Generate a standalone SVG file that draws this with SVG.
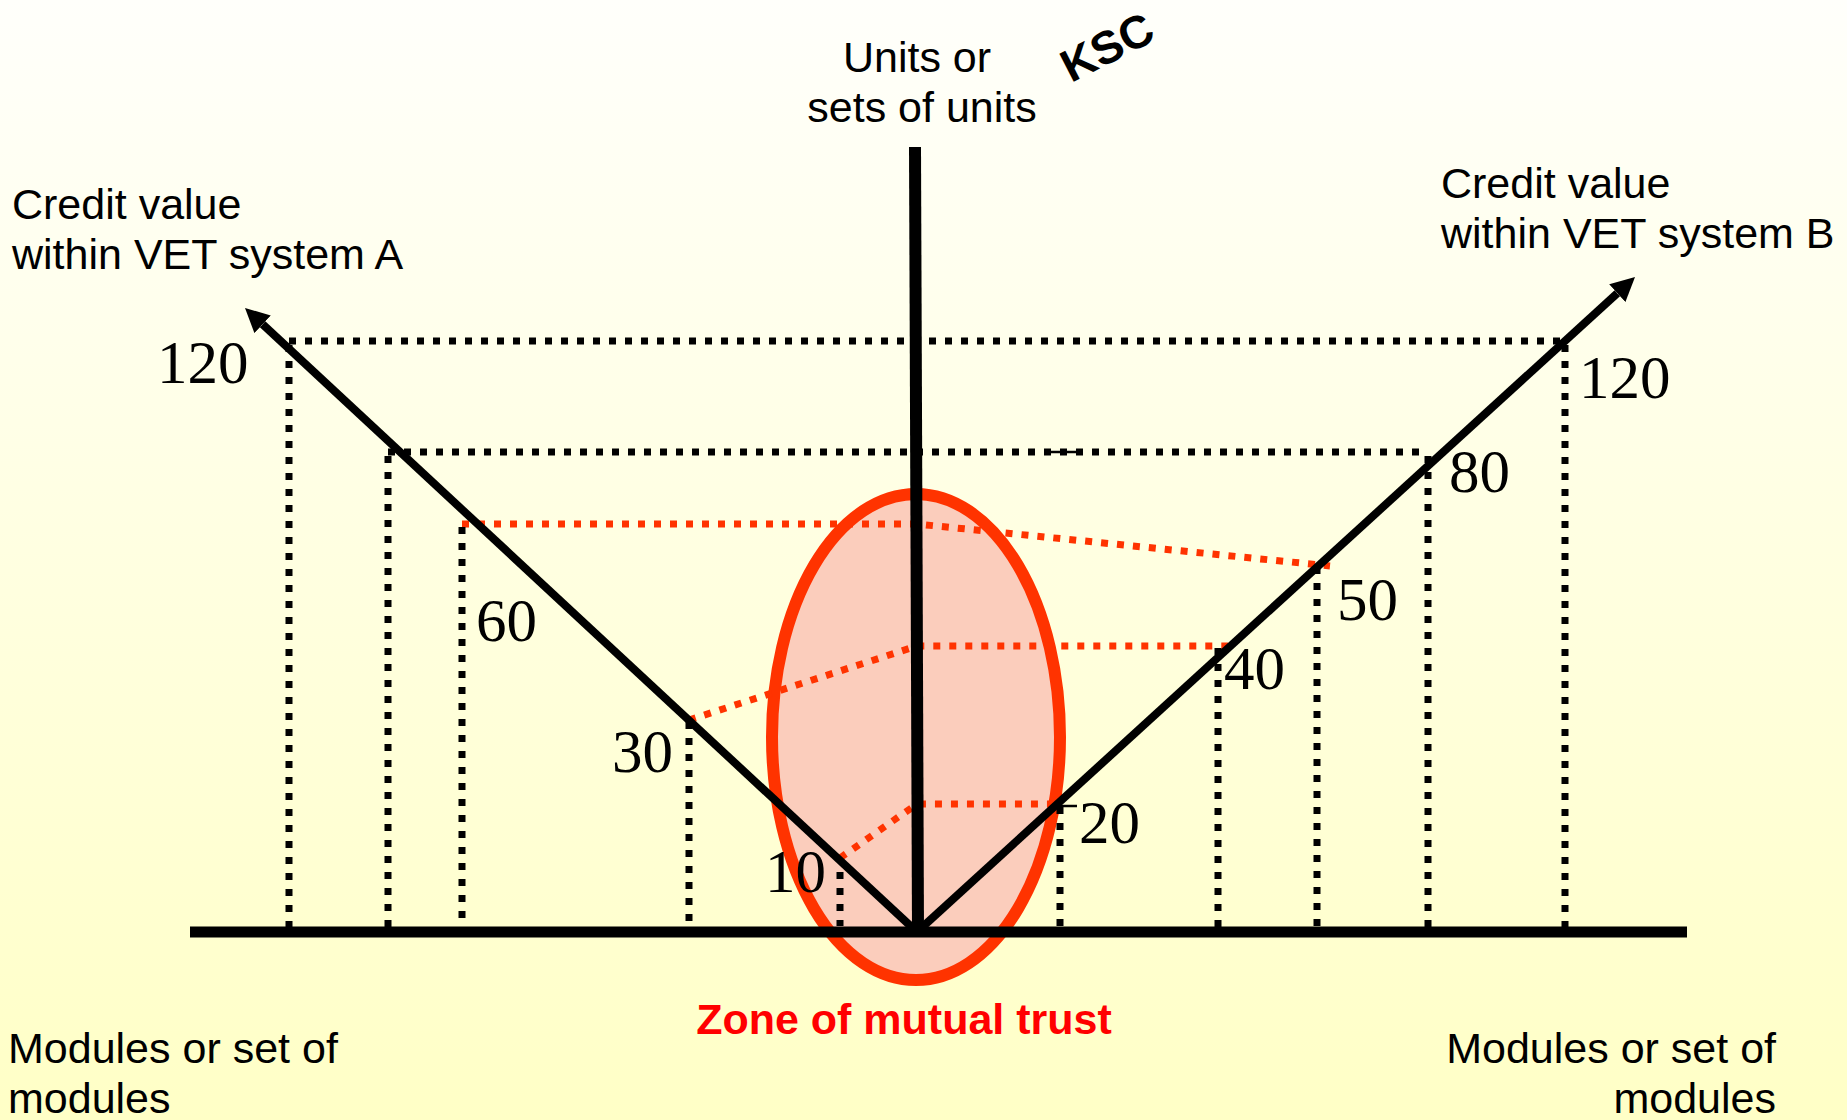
<svg xmlns="http://www.w3.org/2000/svg" width="1847" height="1120" viewBox="0 0 1847 1120">
  <defs>
    <linearGradient id="bg" x1="0" y1="0" x2="0" y2="1">
      <stop offset="0" stop-color="#FFFFFB"/>
      <stop offset="1" stop-color="#FFFFC6"/>
    </linearGradient>
    <marker id="arrow" viewBox="0 0 24 24" refX="0" refY="12" markerWidth="24" markerHeight="24" markerUnits="userSpaceOnUse" orient="auto">
      <path d="M0,0 L24,12 L0,24 z" fill="#000"/>
    </marker>
    <style>
      .dotk { fill: none; stroke: #000; stroke-width: 7; stroke-dasharray: 7 9; }
      .dotr { fill: none; stroke: #FF3300; stroke-width: 7; stroke-dasharray: 7 9; }
      .axis { fill: none; stroke: #000; stroke-width: 8; }
      .tick { fill: none; stroke: #000; stroke-width: 2.5; }
      .lbl { font-family: "Liberation Sans", Arial, sans-serif; font-size: 43px; fill: #000; }
      .num { font-family: "Liberation Serif", "Times New Roman", serif; font-size: 61px; fill: #000; }
    </style>
  </defs>

  <rect x="0" y="0" width="1847" height="1120" fill="url(#bg)"/>

  <g id="zone-of-mutual-trust">
    <ellipse cx="916" cy="737" rx="144" ry="243" fill="#FBCDBC" stroke="#FF3300" stroke-width="12"/>
  </g>

  <g id="connectors">
    <g id="red-links">
      <polyline class="dotr" points="462,524 917,524 1330,566"/>
      <polyline class="dotr" points="689,720 917,646 1228,646"/>
      <polyline class="dotr" points="840,858 917,804 1056,804"/>
    </g>
    <g id="guides">
      <line class="dotk" x1="289" y1="341" x2="1565" y2="341"/>
      <line class="dotk" x1="289" y1="345" x2="289" y2="928"/>
      <line class="dotk" x1="1565" y1="345" x2="1565" y2="928"/>
      <line class="dotk" x1="388" y1="452" x2="1428" y2="452"/>
      <line class="dotk" x1="388" y1="456" x2="388" y2="928"/>
      <line class="dotk" x1="1428" y1="456" x2="1428" y2="928"/>
      <line class="dotk" x1="462" y1="527" x2="462" y2="922"/>
      <line class="dotk" x1="689" y1="722" x2="689" y2="924"/>
      <line class="dotk" x1="840" y1="872" x2="840" y2="926"/>
      <line class="dotk" x1="1060" y1="807" x2="1060" y2="926"/>
      <line class="dotk" x1="1218" y1="648" x2="1218" y2="928"/>
      <line class="dotk" x1="1317" y1="567" x2="1317" y2="928"/>
      <line class="tick" x1="1050" y1="452" x2="1077" y2="452"/>
      <line class="tick" x1="1058" y1="806" x2="1077" y2="806"/>
    </g>
    <g id="axes">
      <line x1="190" y1="932" x2="1687" y2="932" stroke="#000" stroke-width="11"/>
      <line x1="915" y1="147" x2="918" y2="932" stroke="#000" stroke-width="12"/>
      <line class="axis" x1="917" y1="932" x2="262.6" y2="324.3" marker-end="url(#arrow)"/>
      <line class="axis" x1="917" y1="932" x2="1617.3" y2="293.2" marker-end="url(#arrow)"/>
    </g>
  </g>

  <g id="axis-a-label">
    <text class="lbl" x="12" y="219">Credit value</text>
    <text class="lbl" x="12" y="269">within VET system A</text>
  </g>
  <g id="axis-b-label">
    <text class="lbl" x="1441" y="198">Credit value</text>
    <text class="lbl" x="1441" y="248">within VET system B</text>
  </g>
  <g id="axis-units-label">
    <text class="lbl" x="917" y="72" text-anchor="middle">Units or</text>
    <text class="lbl" x="922" y="122" text-anchor="middle">sets of units</text>
  </g>
  <g id="ksc-label">
    <text x="1107" y="63" text-anchor="middle" transform="rotate(-27 1107 47)" font-family="Liberation Sans, Arial, sans-serif" font-weight="bold" font-size="46" fill="#000">KSC</text>
  </g>
  <g id="modules-left">
    <text class="lbl" x="8" y="1063">Modules or set of</text>
    <text class="lbl" x="8" y="1113">modules</text>
  </g>
  <g id="modules-right">
    <text class="lbl" x="1776" y="1063" text-anchor="end">Modules or set of</text>
    <text class="lbl" x="1776" y="1113" text-anchor="end">modules</text>
  </g>
  <g id="zone-label">
    <text x="904" y="1034" text-anchor="middle" font-family="Liberation Sans, Arial, sans-serif" font-weight="bold" font-size="43" fill="#FF0000">Zone of mutual trust</text>
  </g>

  <g id="values">
    <text class="num" x="157" y="383">120</text>
    <text class="num" x="1579" y="398">120</text>
    <text class="num" x="1449" y="492">80</text>
    <text class="num" x="1337" y="620">50</text>
    <text class="num" x="1224" y="689">40</text>
    <text class="num" x="476" y="641">60</text>
    <text class="num" x="612" y="772">30</text>
    <text class="num" x="1079" y="843">20</text>
    <text class="num" x="765" y="892">10</text>
  </g>
</svg>
